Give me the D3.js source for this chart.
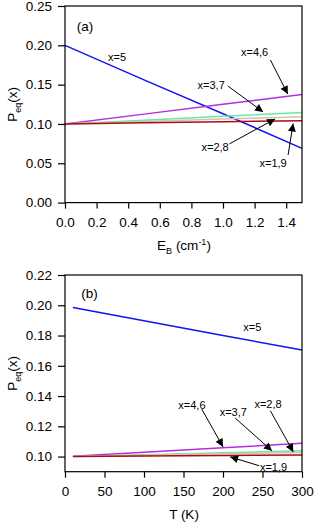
<!DOCTYPE html>
<html>
<head>
<meta charset="utf-8">
<script src="https://cdn.jsdelivr.net/npm/d3@7"></script>
<style>
  body { margin: 0; background: #fff; }
  svg { font-family: "Liberation Sans", Arial, sans-serif; }
  .tick text { font-size: 13.5px; fill: #000; }
  .ann { font-size: 11px; }
</style>
</head>
<body>
<div id="chart"></div>
<script>
// panel (a): P_eq vs E_B
var ebVals = [0, 0.5, 1.0, 1.5];
var aX5  = [0.200, 0.156, 0.113, 0.069];
var aX46 = [0.100, 0.1125, 0.125, 0.1375];
var aX37 = [0.100, 0.1047, 0.1097, 0.1147];
var aX28 = [0.100, 0.1031, 0.1062, 0.1093];
var aX19 = [0.100, 0.1014, 0.1028, 0.1042];
var aXTicks = [0, 0.2, 0.4, 0.6, 0.8, 1.0, 1.2, 1.4];
var aYTicks = [0, 0.05, 0.10, 0.15, 0.20, 0.25];

// panel (b): P_eq vs T
var tVals = [10, 100, 200, 300];
var bX5  = [0.1985, 0.1897, 0.1800, 0.1705];
var bX46 = [0.1002, 0.1029, 0.1058, 0.1088];
var bX37 = [0.1001, 0.1012, 0.1025, 0.1038];
var bX28 = [0.1001, 0.1009, 0.1018, 0.1027];
var bX19 = [0.1000, 0.1004, 0.1007, 0.1011];
var bXTicks = [0, 50, 100, 150, 200, 250, 300];
var bYTicks = [0.10, 0.12, 0.14, 0.16, 0.18, 0.20, 0.22];

var colors = { x5: "#1414f0", x46: "#b42ee0", x37: "#66eaa0", x28: "#dcbcbc", x19: "#a80f0f" };

var width = 314, height = 522;
var svg = d3.select("#chart").append("svg")
    .attr("width", width).attr("height", height);

svg.append("defs").append("marker")
    .attr("id", "arr")
    .attr("viewBox", "0 0 10 10")
    .attr("refX", 10).attr("refY", 5)
    .attr("markerUnits", "userSpaceOnUse")
    .attr("markerWidth", 9).attr("markerHeight", 8)
    .attr("orient", "auto")
    .append("path").attr("d", "M0,0L10,5L0,10z").attr("fill", "#000");

function panel(opt) {
  var x = d3.scaleLinear().domain(opt.xDom).range([65, 302]);
  var y = d3.scaleLinear().domain(opt.yDom).range([opt.bottom, opt.top]);
  var g = svg.append("g");

  var line = d3.line()
      .x(function(d) { return x(d[0]); })
      .y(function(d) { return y(d[1]); });

  opt.series.forEach(function(s) {
    g.append("path")
      .datum(opt.xs.map(function(v, i) { return [v, s.vals[i]]; }))
      .attr("d", line)
      .attr("fill", "none")
      .attr("stroke", s.color)
      .attr("stroke-width", 1.5);
  });

  // frame
  g.append("rect")
    .attr("x", x.range()[0]).attr("y", opt.top)
    .attr("width", x.range()[1] - x.range()[0])
    .attr("height", opt.bottom - opt.top)
    .attr("fill", "none").attr("stroke", "#000").attr("stroke-width", 1.2);

  var xAxis = d3.axisBottom(x).tickValues(opt.xTicks).tickFormat(d3.format(opt.xFmt))
      .tickSizeOuter(0).tickSize(6).tickPadding(9);
  var yAxis = d3.axisLeft(y).tickValues(opt.yTicks).tickFormat(d3.format(".2f"))
      .tickSizeOuter(0).tickSize(7).tickPadding(6);

  g.append("g").attr("transform", "translate(0," + opt.bottom + ")").call(xAxis)
    .call(function(a) { a.select(".domain").remove(); a.selectAll("line").attr("stroke-width", 1.2); });
  g.append("g").attr("transform", "translate(65,0)").call(yAxis)
    .call(function(a) { a.select(".domain").remove(); a.selectAll("line").attr("stroke-width", 1.2); });

  // y label
  var yl = g.append("text")
    .attr("transform", "translate(17," + ((opt.top + opt.bottom) / 2) + ")rotate(-90)")
    .attr("text-anchor", "middle").attr("font-size", 13.5);
  yl.append("tspan").text("P");
  yl.append("tspan").attr("font-size", 9).attr("dy", 4).text("eq");
  yl.append("tspan").attr("dy", -4).text("(x)");

  // x label
  opt.xLabel(g.append("text")
    .attr("x", 184).attr("y", opt.bottom + 47)
    .attr("text-anchor", "middle").attr("font-size", 13.5));

  // panel tag
  g.append("text").attr("x", x(opt.tag[1])).attr("y", y(opt.tag[2]))
    .attr("dy", "0.35em").attr("text-anchor", "middle").attr("font-size", 13.5)
    .text(opt.tag[0]);

  opt.anns.forEach(function(a) {
    g.append("text").attr("class", "ann")
      .attr("x", x(a.t[0])).attr("y", y(a.t[1])).attr("dy", "0.35em")
      .attr("text-anchor", "middle").text(a.label);
    if (a.from) {
      g.append("line")
        .attr("x1", x(a.from[0])).attr("y1", y(a.from[1]))
        .attr("x2", x(a.to[0])).attr("y2", y(a.to[1]))
        .attr("stroke", "#000").attr("stroke-width", 1)
        .attr("marker-end", "url(#arr)");
    }
  });
}

panel({
  xDom: [0, 1.5], yDom: [0, 0.25], top: 6, bottom: 202.6,
  xs: ebVals, xTicks: aXTicks, yTicks: aYTicks, xFmt: ".1f",
  series: [
    { vals: aX5, color: colors.x5 },
    { vals: aX46, color: colors.x46 },
    { vals: aX37, color: colors.x37 },
    { vals: aX28, color: colors.x28 },
    { vals: aX19, color: colors.x19 }
  ],
  xLabel: function(t) {
    t.append("tspan").text("E");
    t.append("tspan").attr("font-size", 9).attr("dy", 4).text("B");
    t.append("tspan").attr("dy", -4).text(" (cm");
    t.append("tspan").attr("font-size", 9).attr("dy", -5).text("-1");
    t.append("tspan").attr("dy", 5).text(")");
  },
  tag: ["(a)", 0.127, 0.2247],
  anns: [
    { label: "x=5", t: [0.33, 0.185] },
    { label: "x=4,6", t: [1.20, 0.1916], from: [1.30, 0.1814], to: [1.41, 0.138] },
    { label: "x=3,7", t: [0.925, 0.1496], from: [1.03, 0.1484], to: [1.254, 0.1153] },
    { label: "x=2,8", t: [0.95, 0.0707], from: [1.04, 0.0746], to: [1.33, 0.1064] },
    { label: "x=1,9", t: [1.317, 0.0504], from: [1.412, 0.0606], to: [1.444, 0.1005] }
  ]
});

panel({
  xDom: [0, 300], yDom: [0.09, 0.22], top: 275, bottom: 471.7,
  xs: tVals, xTicks: bXTicks, yTicks: bYTicks, xFmt: "d",
  series: [
    { vals: bX5, color: colors.x5 },
    { vals: bX46, color: colors.x46 },
    { vals: bX37, color: colors.x37 },
    { vals: bX28, color: colors.x28 },
    { vals: bX19, color: colors.x19 }
  ],
  xLabel: function(t) { t.text("T (K)"); },
  tag: ["(b)", 31, 0.208],
  anns: [
    { label: "x=5", t: [237, 0.1856] },
    { label: "x=4,6", t: [160.7, 0.1341], from: [173, 0.1315], to: [200, 0.1064] },
    { label: "x=3,7", t: [213, 0.1295], from: [215.4, 0.1255], to: [262, 0.1038] },
    { label: "x=2,8", t: [257, 0.1348], from: [260, 0.1302], to: [289, 0.1031] },
    { label: "x=1,9", t: [264, 0.0932], from: [246, 0.0939], to: [209, 0.0998] }
  ]
});
</script>
</body>
</html>
